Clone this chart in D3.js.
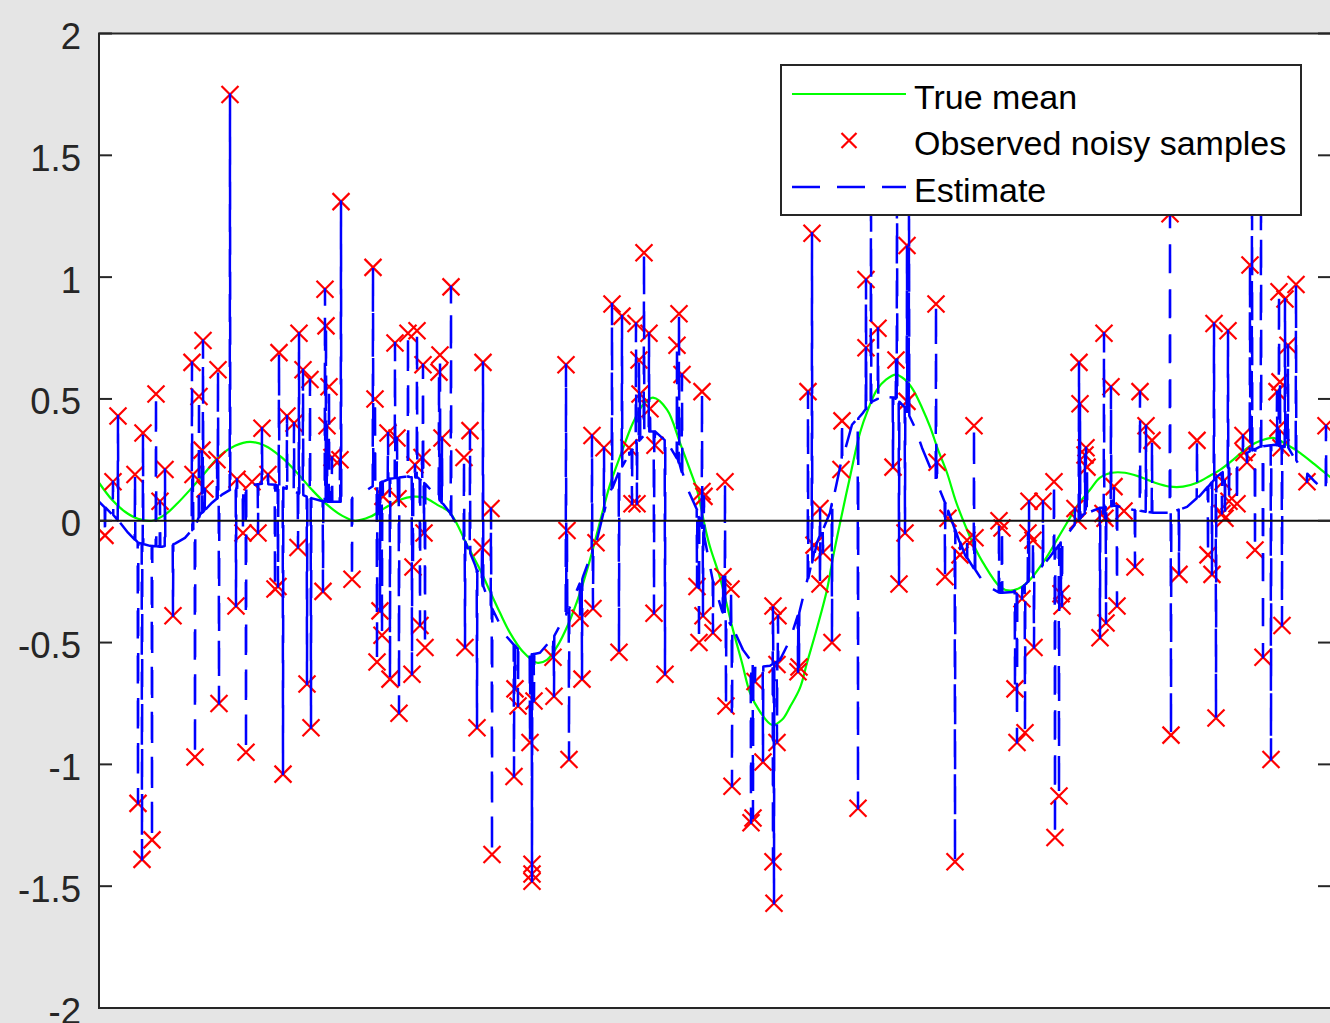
<!DOCTYPE html>
<html>
<head>
<meta charset="utf-8">
<script src="https://cdn.jsdelivr.net/npm/d3@7"></script>
<style>
html,body{margin:0;padding:0;background:#e5e5e5;overflow:hidden}
svg{display:block}
</style>
</head>
<body>
<svg id="chart" width="1330" height="1023"></svg>
<script>
// ---------------- data ----------------
const yTickValues = [-2, -1.5, -1, -0.5, 0, 0.5, 1, 1.5, 2];
const yTickLabels = ["-2", "-1.5", "-1", "-0.5", "0", "0.5", "1", "1.5", "2"];
const legendLabels = ["True mean", "Observed noisy samples", "Estimate"];

// True mean (green), sampled along the x range (arbitrary x units 0..1232)
const meanX = [0,13,26,39,53,66,79,93,106,121,136,151,166,183,198,213,228,243,256,271,286,301,314,326,338,351,368,381,391,401,411,424,438,448,458,469,481,491,501,511,521,534,544,554,568,581,591,598,606,611,621,634,643,651,661,673,683,691,701,708,718,728,734,741,751,761,769,778,787,797,806,814,823,831,839,848,857,868,876,884,901,911,921,931,946,958,968,979,991,1001,1013,1026,1041,1056,1071,1084,1098,1111,1121,1134,1146,1159,1174,1188,1201,1216,1232];
const meanY = [0.156,0.086,0.037,0.008,0.0,0.025,0.074,0.136,0.197,0.267,0.308,0.324,0.308,0.259,0.197,0.127,0.066,0.021,0.0,0.016,0.053,0.086,0.099,0.094,0.066,0.033,-0.099,-0.2,-0.29,-0.378,-0.46,-0.538,-0.583,-0.571,-0.517,-0.427,-0.296,-0.16,-0.004,0.148,0.263,0.402,0.476,0.505,0.456,0.32,0.209,0.127,-0.025,-0.107,-0.234,-0.448,-0.583,-0.706,-0.784,-0.838,-0.817,-0.764,-0.686,-0.583,-0.44,-0.283,-0.15,-0.01,0.18,0.361,0.456,0.538,0.579,0.6,0.579,0.538,0.464,0.386,0.292,0.197,0.078,-0.037,-0.111,-0.172,-0.271,-0.287,-0.275,-0.242,-0.16,-0.078,-0.008,0.066,0.127,0.177,0.197,0.197,0.18,0.156,0.14,0.14,0.156,0.185,0.209,0.25,0.292,0.324,0.34,0.312,0.279,0.23,0.177];

// Observed noisy samples (red x)
const sampleX = [6,14,19,36,39,43,44,53,57,61,66,74,93,94,96,100,103,104,106,118,119,120,131,137,138,144,147,153,159,163,169,176,179,180,184,188,195,199,200,204,208,211,212,224,226,227,228,230,233,241,242,253,
274,276,278,281,283,284,289,291,296,298,299,300,309,313,314,316,318,321,323,324,325,326,340,341,343,352,365,366,371,378,383,384,392,393,415,416,419,431,433,433,433,435,454,455,467,468,470,481,483,493,494,497,
505,513,520,523,530,533,537,538,540,541,545,550,551,555,556,566,578,580,583,598,600,603,603,604,605,614,624,626,627,632,633,652,654,656,664,674,674,675,678,678,679,699,700,709,713,715,721,721,724,733,742,743,759,
767,767,772,779,794,797,798,800,806,808,808,810,837,838,846,849,856,861,868,875,876,900,903,916,918,923,926,929,930,934,935,944,955,956,960,962,963,976,979,980,981,986,987,988,1001,1004,1005,1006,1007,
1012,1015,1018,1025,1036,1041,1047,1053,1071,1072,1080,1098,1109,1113,1115,1117,1123,1124,1126,1129,1130,1138,1144,1145,1148,1151,1153,1156,1162,1164,1172,1178,1179,1180,1181,1182,1183,1186,1189,1197,1208,1227];
const sampleY = [-0.06,0.16,0.43,0.19,-1.16,-1.39,0.36,-1.31,0.52,0.08,0.21,-0.39,0.65,0.19,-0.97,0.51,0.29,0.74,0.13,0.25,0.62,-0.75,1.75,-0.35,0.17,-0.05,-0.95,0.16,-0.05,0.38,0.19,-0.28,-0.27,0.69,-1.04,0.43,0.40,-0.11,0.77,0.62,-0.67,0.58,-0.85,-0.29,0.95,0.80,0.39,0.55,0.26,0.25,1.31,-0.24,
1.04,0.50,-0.58,-0.37,-0.47,0.10,0.36,-0.65,0.73,0.34,0.09,-0.79,0.77,-0.63,-0.19,0.23,0.78,-0.43,0.26,0.64,-0.05,-0.52,0.61,0.68,0.34,0.96,0.26,-0.52,0.37,-0.85,-0.11,0.65,0.05,-1.37,-1.05,-0.69,-0.76,-0.91,-1.41,-1.45,-1.48,-0.74,-0.56,-0.72,0.64,-0.04,-0.98,-0.40,-0.65,0.35,-0.36,-0.09,
0.30,0.89,-0.54,0.84,0.30,0.07,0.81,0.07,0.66,0.52,1.10,0.77,0.46,-0.38,0.31,-0.63,0.72,0.85,0.60,-0.27,-0.50,0.53,0.12,-0.39,0.10,-0.46,-0.23,0.16,-0.76,-0.28,-1.09,-1.24,-1.22,-0.66,-0.99,-0.35,-1.40,-1.57,-0.59,-0.91,-0.39,-0.62,-0.60,0.53,1.18,-0.10,0.05,-0.26,-0.13,-0.50,0.21,0.41,-1.18,
0.99,0.71,1.45,0.79,0.22,0.66,1.60,-0.26,-0.05,1.13,0.49,1.40,0.89,0.24,-0.23,0.01,-1.40,-0.14,-0.08,0.39,-0.07,0.00,-0.03,-0.69,-0.91,-0.32,-0.87,-0.05,0.08,-0.08,-0.52,0.08,0.16,-1.30,-1.13,-0.30,-0.35,0.05,0.00,0.65,0.48,0.27,0.30,0.22,-0.48,0.03,0.77,0.01,-0.42,
0.55,0.14,-0.35,0.04,-0.19,0.53,0.39,0.33,1.26,-0.88,-0.22,0.33,-0.14,-0.22,0.81,-0.81,0.03,0.16,0.01,0.78,0.08,0.07,0.35,0.28,0.24,1.05,1.55,-0.12,1.45,-0.56,-0.98,0.53,0.38,0.94,0.57,0.30,-0.43,0.91,0.72,0.97,0.16,0.39];

// Smooth part of the estimate (blue dashed), between the spikes
const estX = [0,16,29,39,51,63,76,86,96,101,113,123,131,146,163,176,191,211,226,243,261,278,291,306,319,327,338,351,364,376,391,406,418,431,441,454,468,484,498,508,521,536,549,556,568,579,589,598,606,614,623,634,644,653,661,671,681,691,701,718,731,743,753,764,773,784,796,806,816,823,833,846,856,866,876,886,901,914,924,936,951,968,984,1001,1016,1034,1054,1071,1088,1101,1118,1131,1148,1161,1176,1189,1201,1216,1232];
const estY = [0.078,0.016,-0.049,-0.09,-0.103,-0.107,-0.094,-0.07,-0.025,0.025,0.074,0.107,0.127,0.144,0.152,0.148,0.127,0.094,0.078,0.078,0.107,0.152,0.172,0.181,0.177,0.148,0.099,0.033,-0.066,-0.181,-0.345,-0.468,-0.522,-0.55,-0.542,-0.48,-0.378,-0.23,-0.078,0.086,0.209,0.312,0.366,0.366,0.324,0.25,0.127,0.045,-0.08,-0.25,-0.37,-0.44,-0.53,-0.579,-0.6,-0.595,-0.571,-0.489,-0.365,-0.09,0.033,0.25,0.394,0.443,0.489,0.509,0.505,0.464,0.382,0.3,0.201,0.074,-0.037,-0.14,-0.201,-0.263,-0.296,-0.292,-0.271,-0.222,-0.148,-0.057,0.025,0.053,0.062,0.045,0.033,0.033,0.057,0.103,0.181,0.222,0.279,0.304,0.312,0.3,0.222,0.16,0.1];

// ---------------- drawing ----------------
const svg = d3.select("#chart");
const plot = {left: 99, right: 1331, top: 33.5, bottom: 1008};
const x = d3.scaleLinear().domain([0, 1232]).range([plot.left, plot.right]);
const y = d3.scaleLinear().domain([-2, 2]).range([plot.bottom, plot.top]);
const axisColor = "#262626";
const fontFamily = "'Liberation Sans', Arial, Helvetica, sans-serif";

svg.append("rect").attr("x", 0).attr("y", 0).attr("width", 1330).attr("height", 1023).attr("fill", "#e5e5e5");
svg.append("rect").attr("x", plot.left).attr("y", plot.top)
  .attr("width", plot.right - plot.left).attr("height", plot.bottom - plot.top).attr("fill", "#ffffff");

svg.append("defs").append("clipPath").attr("id", "clip")
  .append("rect").attr("x", plot.left).attr("y", plot.top)
  .attr("width", plot.right - plot.left).attr("height", plot.bottom - plot.top);

const g = svg.append("g").attr("clip-path", "url(#clip)");

// True mean
const line = d3.line().x(d => x(d[0])).y(d => y(d[1]));
const meanPts = meanX.map((t, i) => [t, meanY[i]]);
g.append("path").attr("d", line.curve(d3.curveCatmullRom.alpha(0.5))(meanPts))
  .attr("fill", "none").attr("stroke", "#00ff00").attr("stroke-width", 2.2);

// Observed samples
const xMark = (cx, cy, r) => `M${cx - r},${cy - r}L${cx + r},${cy + r}M${cx - r},${cy + r}L${cx + r},${cy - r}`;
g.append("g").selectAll("path").data(sampleX.map((t, i) => [t, sampleY[i]])).join("path")
  .attr("d", d => xMark(x(d[0]), y(d[1]), 8.5))
  .attr("stroke", "#ff0000").attr("stroke-width", 2.2).attr("fill", "none");

// Estimate: smooth part with a spike to every sample
const base = d3.scaleLinear().domain(estX).range(estY);
const events = [];
estX.forEach((t, i) => events.push({t: t, pts: [[t, estY[i]]]}));
sampleX.forEach((t, i) => {
  const b = base(t);
  events.push({t: t, pts: [[t - 0.3, b], [t, sampleY[i]], [t + 0.3, b]]});
});
events.sort((a, b) => a.t - b.t);
const estPts = events.flatMap(e => e.pts);
g.append("path").attr("d", d3.line().x(d => x(d[0])).y(d => y(d[1]))(estPts))
  .attr("fill", "none").attr("stroke", "#0000ff").attr("stroke-width", 2.5)
  .attr("stroke-dasharray", "28,17").attr("stroke-linejoin", "round");

// zero line
g.append("line").attr("x1", x(0)).attr("x2", x(1232)).attr("y1", y(0)).attr("y2", y(0))
  .attr("stroke", "#111111").attr("stroke-width", 1.8);

// axes box
const box = svg.append("g").attr("stroke", axisColor).attr("stroke-width", 2).attr("fill", "none");
box.append("path").attr("d", `M${plot.right},${plot.top}H${plot.left}V${plot.bottom}H${plot.right}`);
box.append("line").attr("x1", plot.right).attr("x2", plot.right).attr("y1", plot.top).attr("y2", plot.bottom);

// y ticks (left and right, inward)
const tickLen = 13;
const ticks = svg.append("g");
yTickValues.forEach((v, i) => {
  ticks.append("line").attr("x1", plot.left).attr("x2", plot.left + tickLen)
    .attr("y1", y(v)).attr("y2", y(v)).attr("stroke", axisColor).attr("stroke-width", 2);
  ticks.append("line").attr("x1", plot.right - tickLen).attr("x2", plot.right)
    .attr("y1", y(v)).attr("y2", y(v)).attr("stroke", axisColor).attr("stroke-width", 2);
  ticks.append("text").attr("x", 81).attr("y", y(v) + 15.5)
    .attr("text-anchor", "end").attr("font-family", fontFamily).attr("font-size", 36.5)
    .attr("fill", axisColor).text(yTickLabels[i]);
});

// legend
const lg = svg.append("g");
lg.append("rect").attr("x", 781).attr("y", 65).attr("width", 520).attr("height", 150)
  .attr("fill", "#ffffff").attr("stroke", axisColor).attr("stroke-width", 2);
const rowY = [94, 140.5, 187];
lg.append("line").attr("x1", 792).attr("x2", 906).attr("y1", rowY[0]).attr("y2", rowY[0])
  .attr("stroke", "#00ff00").attr("stroke-width", 2.2);
lg.append("path").attr("d", xMark(849, rowY[1], 7.5)).attr("stroke", "#ff0000").attr("stroke-width", 2.2);
lg.append("line").attr("x1", 792).attr("x2", 906).attr("y1", rowY[2]).attr("y2", rowY[2])
  .attr("stroke", "#0000ff").attr("stroke-width", 2.5).attr("stroke-dasharray", "28,17");
legendLabels.forEach((s, i) => {
  lg.append("text").attr("x", 914).attr("y", rowY[i] + 14.5)
    .attr("font-family", fontFamily).attr("font-size", 34).attr("fill", "#000000").text(s);
});
</script>
</body>
</html>
